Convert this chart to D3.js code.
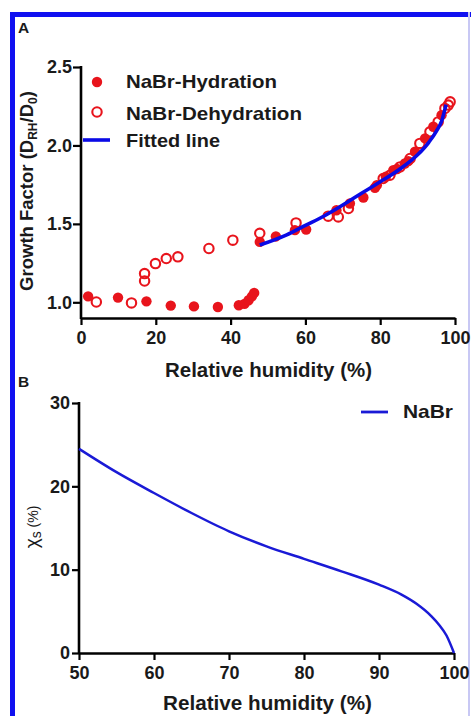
<!DOCTYPE html>
<html><head><meta charset="utf-8">
<script src="https://cdn.jsdelivr.net/npm/d3@7"></script>
<style>body{margin:0;background:#fff}svg{display:block}text{font-family:"Liberation Sans",Arial,sans-serif}</style>
</head><body>
<script>
// Panel A data
const hydRH = [1.9, 9.9, 17.5, 24.0, 30.2, 36.6, 42.2, 43.7, 44.8, 45.7, 46.3, 47.8, 52.1, 57.2, 60.2, 68.3, 71.9, 75.5, 78.6, 79.1, 81.5, 83.5, 84.5, 86.6, 87.5, 89.3, 92.0, 94.2, 96.4];
const hydGF = [1.038, 1.03, 1.006, 0.979, 0.974, 0.97, 0.981, 0.99, 1.013, 1.038, 1.06, 1.385, 1.42, 1.46, 1.464, 1.587, 1.63, 1.668, 1.73, 1.747, 1.8, 1.842, 1.85, 1.885, 1.9, 1.96, 2.045, 2.119, 2.193];
const dehRH = [4.1, 13.5, 17.0, 17.0, 19.9, 22.8, 25.9, 34.2, 40.6, 47.8, 57.5, 66.1, 68.8, 71.5, 80.8, 82.6, 85.3, 88.0, 90.6, 93.3, 95.5, 97.3, 98.2, 98.7];
const dehGF = [1.002, 0.996, 1.136, 1.183, 1.247, 1.279, 1.29, 1.343, 1.396, 1.44, 1.506, 1.549, 1.544, 1.598, 1.789, 1.81, 1.863, 1.917, 2.013, 2.087, 2.15, 2.236, 2.257, 2.278];
const fitRH = [47.8, 55, 60, 65, 70, 75, 80, 85, 90, 93, 95, 96.5, 97.6];
const fitGF = [1.365, 1.43, 1.49, 1.55, 1.62, 1.695, 1.768, 1.845, 1.94, 2.02, 2.09, 2.16, 2.26];
const xTicksA = [0, 20, 40, 60, 80, 100];
const yTicksA = [1.0, 1.5, 2.0, 2.5];
// Panel B data
const chiRH = [50, 55, 60, 65, 70, 75, 80, 85, 90, 93, 95, 97, 98, 99, 100];
const chiVal = [24.5, 21.7, 19.2, 16.8, 14.6, 12.8, 11.3, 9.8, 8.2, 7.0, 5.9, 4.4, 3.4, 2.1, 0];
const xTicksB = [50, 60, 70, 80, 90, 100];
const yTicksB = [0, 10, 20, 30];

const W = 471, H = 716;
const svg = d3.select("body").append("svg").attr("width", W).attr("height", H);
const blue = "#0a0ae6", red = "#e8141c", lineBlue = "#1a1ad6", ink = "#1a1a1a";

// frame
svg.append("rect").attr("x", 10).attr("y", 12).attr("width", 5).attr("height", H).attr("fill", "#1010f0");
svg.append("rect").attr("x", 10).attr("y", 12).attr("width", W).attr("height", 5).attr("fill", "#1010f0");
svg.append("rect").attr("x", 468).attr("y", 12).attr("width", 2).attr("height", H).attr("fill", "#c8c8f4");

svg.append("text").attr("x", 18).attr("y", 33).attr("font-size", 15.5).attr("font-weight", "bold").attr("fill", ink).text("A");
svg.append("text").attr("x", 18).attr("y", 387).attr("font-size", 15.5).attr("font-weight", "bold").attr("fill", ink).text("B");

function styleAxis(g) {
  g.selectAll(".domain").attr("stroke", "#000").attr("stroke-width", 2.6);
  g.selectAll(".tick line").attr("stroke", "#000").attr("stroke-width", 2.2);
  g.selectAll(".tick text").attr("font-size", 18).attr("font-weight", "bold").attr("font-family", '"Liberation Sans",Arial,sans-serif').attr("fill", ink);
}

// ---------- Panel A ----------
const xA = d3.scaleLinear().domain([0, 100]).range([81, 455]);
const yA = d3.scaleLinear().domain([0.9, 2.5]).range([318, 67]);

const gxA = svg.append("g").attr("transform", "translate(0,318)")
  .call(d3.axisBottom(xA).tickValues(xTicksA).tickSize(7).tickSizeOuter(0).tickPadding(6).tickFormat(d3.format("d")));
styleAxis(gxA);
const gyA = svg.append("g").attr("transform", "translate(81,0)")
  .call(d3.axisLeft(yA).tickValues(yTicksA).tickSize(8).tickSizeOuter(0).tickPadding(1).tickFormat(d3.format(".1f")));
styleAxis(gyA);
gyA.select(".domain").attr("d", `M0,${yA(2.5) - 1}V319`);

const fit = fitRH.map((r, i) => [r, fitGF[i]]);
svg.append("g").selectAll("circle").data(hydRH.map((r, i) => [r, hydGF[i]])).join("circle")
  .attr("cx", d => xA(d[0])).attr("cy", d => yA(d[1])).attr("r", 5.2).attr("fill", red);
svg.append("g").selectAll("circle").data(dehRH.map((r, i) => [r, dehGF[i]])).join("circle")
  .attr("cx", d => xA(d[0])).attr("cy", d => yA(d[1])).attr("r", 4.7).attr("fill", "none").attr("stroke", red).attr("stroke-width", 2.1);
svg.append("path").datum(fit).attr("fill", "none").attr("stroke", blue).attr("stroke-width", 3.6)
  .attr("d", d3.line().x(d => xA(d[0])).y(d => yA(d[1])).curve(d3.curveMonotoneX));

// Legend A
const legA = svg.append("g");
legA.append("circle").attr("cx", 97).attr("cy", 82).attr("r", 5.2).attr("fill", red);
legA.append("circle").attr("cx", 97).attr("cy", 112).attr("r", 4.7).attr("fill", "none").attr("stroke", red).attr("stroke-width", 2.1);
legA.append("line").attr("x1", 83).attr("x2", 110).attr("y1", 140).attr("y2", 140).attr("stroke", blue).attr("stroke-width", 3.6);
[["NaBr-Hydration", 88, 151], ["NaBr-Dehydration", 120, 176], ["Fitted line", 147, 94]].forEach(([t, y, w]) => {
  legA.append("text").attr("x", 126).attr("y", y).attr("font-size", 18.5).attr("font-weight", "bold").attr("fill", ink)
    .attr("textLength", w).attr("lengthAdjust", "spacingAndGlyphs").text(t);
});

svg.append("text").attr("x", 165).attr("y", 377).attr("font-size", 20.5).attr("font-weight", "bold").attr("fill", ink)
  .attr("textLength", 207).attr("lengthAdjust", "spacingAndGlyphs").text("Relative humidity (%)");
const yl = svg.append("text").attr("transform", "translate(33,191) rotate(-90)").attr("text-anchor", "middle")
  .attr("font-size", 18.5).attr("font-weight", "bold").attr("fill", ink);
yl.append("tspan").text("Growth Factor (D");
yl.append("tspan").attr("font-size", 12).attr("dy", 4).text("RH");
yl.append("tspan").attr("dy", -4).text("/D");
yl.append("tspan").attr("font-size", 12).attr("dy", 4).text("0");
yl.append("tspan").attr("dy", -4).text(")");

// ---------- Panel B ----------
const xB = d3.scaleLinear().domain([50, 100]).range([79, 454]);
const yB = d3.scaleLinear().domain([0, 30]).range([653, 403]);
const gxB = svg.append("g").attr("transform", "translate(0,653)")
  .call(d3.axisBottom(xB).tickValues(xTicksB).tickSize(7).tickSizeOuter(0).tickPadding(6).tickFormat(d3.format("d")));
styleAxis(gxB);
const gyB = svg.append("g").attr("transform", "translate(79,0)")
  .call(d3.axisLeft(yB).tickValues(yTicksB).tickSize(7).tickSizeOuter(0).tickPadding(2).tickFormat(d3.format("d")));
styleAxis(gyB);
gyB.select(".domain").attr("d", `M0,${yB(30) - 1}V654`);

svg.append("path").datum(chiRH.map((r, i) => [r, chiVal[i]])).attr("fill", "none").attr("stroke", lineBlue).attr("stroke-width", 2.5)
  .attr("d", d3.line().x(d => xB(d[0])).y(d => yB(d[1])).curve(d3.curveMonotoneX));

svg.append("line").attr("x1", 361).attr("x2", 388).attr("y1", 412).attr("y2", 412).attr("stroke", lineBlue).attr("stroke-width", 2.8);
svg.append("text").attr("x", 403).attr("y", 418).attr("font-size", 18.5).attr("font-weight", "bold").attr("fill", ink)
  .attr("textLength", 50).attr("lengthAdjust", "spacingAndGlyphs").text("NaBr");

svg.append("text").attr("x", 163).attr("y", 710).attr("font-size", 20.5).attr("font-weight", "bold").attr("fill", ink)
  .attr("textLength", 209).attr("lengthAdjust", "spacingAndGlyphs").text("Relative humidity (%)");
const yl2 = svg.append("text").attr("transform", "translate(38,527) rotate(-90)").attr("text-anchor", "middle")
  .attr("font-size", 14).attr("fill", ink);
yl2.append("tspan").attr("font-size", 19).text("χ");
yl2.append("tspan").attr("font-size", 14).attr("dy", 3).text("s");
yl2.append("tspan").attr("dy", -3).attr("font-size", 14).text(" (%)");
</script>
</body></html>
